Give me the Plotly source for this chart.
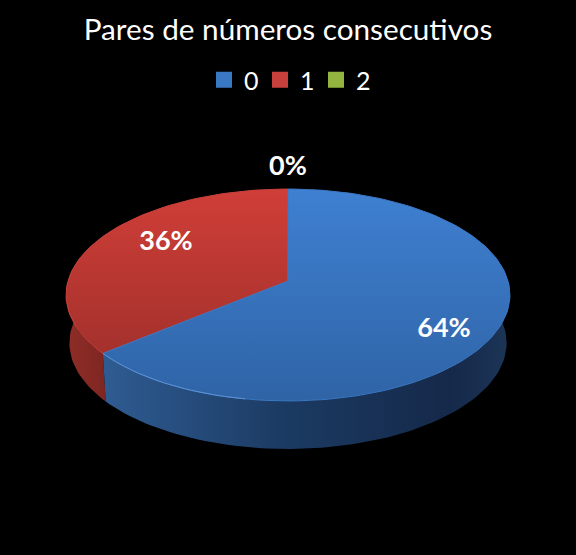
import numpy as np
import plotly.graph_objects as go

categories = ['0', '1', '2']
values = [64, 36, 0]
legend_colors = ['#3b78c4', '#c8403b', '#93b53f']
top_colors = [['#3f80d2', '#2f64a6'], ['#d03e38', '#a4312c'], ['#a2c94a', '#7f9d37']]
side_scales = [
    [[0, '#2f5c92'], [0.45, '#1b3a62'], [0.85, '#15294a'], [1, '#1c3557']],
    [[0, '#8f2d28'], [0.18, '#7f2622'], [1, '#7f2622']],
]
label_x = [444, 166, 288]
label_y = [330, 243, 168]

# pie geometry in pixels, the plot area is mapped 1:1 on the image
cx, cy = 288, 281
bx, by = 220, 104.1
persp = 0.132
depth = 48
shrink = 0.985


def arc(start, end, scale=1.0, drop=0):
    # clockwise from 12 o'clock, values in percent, with perspective
    t = np.radians(np.linspace(start, end, max(int(end - start) * 2, 2)) * 3.6)
    w = 1 + persp * np.cos(t)
    x = cx + scale * bx * np.sin(t) / w
    y = cy - by * np.cos(t) / w + drop
    return x, y


fig = go.Figure()

edges = np.concatenate([[0], np.cumsum(values)])

# sides first, the tops cover the back of them. red before blue
for i in [1, 0]:
    x1, y1 = arc(edges[i], edges[i + 1])
    x2, y2 = arc(edges[i], edges[i + 1], shrink, depth)
    fig.add_trace(go.Scatter(
        x=np.concatenate([x1, x2[::-1]]), y=np.concatenate([y1, y2[::-1]]),
        mode='lines', fill='toself', line=dict(width=0),
        fillgradient=dict(type='horizontal', colorscale=side_scales[i]),
        hoverinfo='skip', showlegend=False))

# y axis is reversed, so the gradient runs bottom colour to top colour
for i in [1, 0]:
    x1, y1 = arc(edges[i], edges[i + 1])
    fig.add_trace(go.Scatter(
        x=np.concatenate([[cx], x1, [cx]]), y=np.concatenate([[cy], y1, [cy]]),
        mode='lines', fill='toself',
        line=dict(width=1, color=legend_colors[i]),
        fillgradient=dict(type='vertical',
                          colorscale=[[0, top_colors[i][1]], [1, top_colors[i][0]]]),
        hoverinfo='skip', showlegend=False))

# lit rim along the front of the blue slice
xr, yr = arc(45, edges[1])
fig.add_trace(go.Scatter(x=xr[xr < 250], y=yr[xr < 250], mode='lines',
                         line=dict(width=1, color='#5d93d6'),
                         hoverinfo='skip', showlegend=False))

fig.add_trace(go.Scatter(
    x=label_x, y=label_y, mode='text',
    text=[f'{v}%' for v in values],
    textposition='middle center',
    textfont=dict(family='Lato', size=27, color='white', weight='bold'),
    hoverinfo='skip', showlegend=False))

for name, color in zip(categories, legend_colors):
    fig.add_trace(go.Scatter(
        x=[None], y=[None], mode='markers', name=name,
        marker=dict(symbol='square', size=17, color=color)))

fig.update_layout(
    width=576, height=555,
    autosize=False,
    paper_bgcolor='black', plot_bgcolor='black',
    margin=dict(l=0, r=0, t=0, b=0),
    title=dict(text='Pares de números consecutivos',
               font=dict(family='Lato', size=29.7, color='white'),
               x=0.5, xanchor='center', y=1 - 30 / 555, yanchor='middle'),
    legend=dict(orientation='h', x=0.5, xanchor='center', y=1 - 80 / 555, yanchor='middle',
                entrywidth=11, entrywidthmode='pixels',
                bgcolor='rgba(0,0,0,0)', font=dict(family='Lato', size=25, color='white')),
    xaxis=dict(range=[0, 576], visible=False, fixedrange=True),
    yaxis=dict(range=[555, 0], visible=False, fixedrange=True),
)

fig.write_html("out.html", config=dict(displayModeBar=False),
               post_script="document.body.style.margin = '0';")
